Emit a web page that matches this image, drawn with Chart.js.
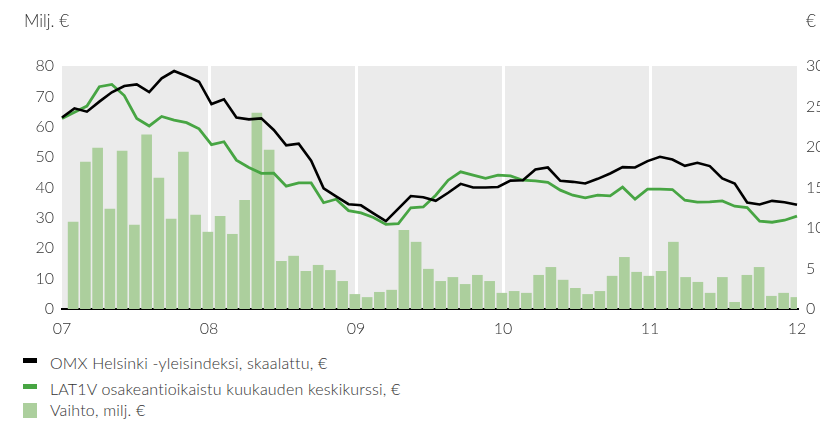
<!DOCTYPE html>
<html lang="fi">
<head>
<meta charset="utf-8">
<title>LAT1V kurssi ja vaihto</title>
<script src="https://cdn.jsdelivr.net/npm/chart.js@4.4.1/dist/chart.umd.min.js"></script>
<style>
    html, body { margin: 0; padding: 0; background: #fff; overflow: hidden; }
    #kehys { position: relative; width: 820px; height: 422px; overflow: hidden; }
    #kaavio { position: absolute; left: 0; top: 0; }
    .selite { position: absolute; left: 0; height: 24px; line-height: 24px; font: 300 16px Lato, sans-serif; letter-spacing: 0.2px; color: #333; white-space: nowrap; }
    .selite .merkki { position: absolute; left: 23px; width: 14px; }
    .selite .teksti { position: absolute; left: 50px; top: 0; }
</style>
</head>
<body>
<div id="kehys">
    <canvas id="kaavio" width="840" height="345"></canvas>
    <div id="selitteet"></div>
</div>
<script>
// --- DATA ---
const vuodet = ['07', '08', '09', '10', '11', '12'];

const kuukaudet = [];
for (let v = 2007; v <= 2011; v++) {
    for (let k = 1; k <= 12; k++) kuukaudet.push(v + '-' + String(k).padStart(2, '0'));
}

// OMX Helsinki -yleisindeksi, skaalattu, € (oikea akseli)
const omxHelsinki = [
    23.65, 24.77, 24.36, 25.6, 26.75, 27.53, 27.73, 26.79, 28.48, 29.38, 28.76, 28.06,
    25.3, 25.88, 23.65, 23.41, 23.53, 22.1, 20.2, 20.4, 18.3, 14.9, 13.9, 12.94,
    12.8, 11.8, 10.84, 12.4, 13.95, 13.8, 13.35, 14.35, 15.45, 15.0, 15.0, 15.07,
    15.85, 15.9, 17.23, 17.47, 15.82, 15.7, 15.5, 16.07, 16.73, 17.51, 17.47, 18.26,
    18.79, 18.46, 17.68, 18.05, 17.64, 16.11, 15.5, 13.15, 12.9, 13.35, 13.19, 12.86
];

// LAT1V osakeantioikaistu kuukauden keskikurssi, € (oikea akseli)
const lat1vKurssi = [
    23.53, 24.3, 25.05, 27.45, 27.73, 26.35, 23.53, 22.6, 23.77, 23.32, 23.0, 22.25,
    20.3, 20.65, 18.38, 17.47, 16.75, 16.76, 15.16, 15.57, 15.57, 13.12, 13.55, 12.15,
    11.86, 11.3, 10.45, 10.55, 12.5, 12.6, 14.05, 15.9, 16.93, 16.52, 16.13, 16.52,
    16.43, 15.9, 15.81, 15.65, 14.67, 14.05, 13.72, 14.05, 13.97, 15.04, 13.56, 14.79,
    14.79, 14.75, 13.43, 13.19, 13.23, 13.35, 12.69, 12.53, 10.84, 10.71, 10.96, 11.46
];

// Vaihto, milj. € (vasen akseli)
const vaihto = [
    28.6, 48.4, 53.0, 32.9, 52.0, 27.6, 57.3, 43.1, 29.6, 51.7, 30.9, 25.3,
    30.5, 24.6, 35.8, 64.5, 52.3, 15.7, 17.4, 12.4, 14.4, 12.7, 9.1, 4.8,
    3.8, 5.5, 6.2, 25.9, 22.0, 13.1, 9.1, 10.4, 8.1, 11.1, 9.1, 5.2,
    5.8, 5.2, 11.1, 13.7, 9.5, 6.8, 4.8, 5.8, 10.8, 17.0, 12.1, 10.8,
    12.4, 22.0, 10.4, 8.8, 5.2, 10.4, 2.2, 11.1, 13.7, 4.2, 5.2, 3.8
];

const sarjaNimet = [
    'OMX Helsinki -yleisindeksi, skaalattu, €',
    'LAT1V osakeantioikaistu kuukauden keskikurssi, €',
    'Vaihto, milj. €'
];

// --- ULKOASU ---
const VARI_MUSTA = '#000000';
const VARI_VIHREA = '#47a543';
const VARI_PYLVAS = '#accf9d';
const VARI_TAUSTA = '#ebebeb';
const VARI_TEKSTI = '#333333';
const fontti = { family: 'Lato, sans-serif', size: 16, weight: 300 };

// harmaa tausta piirtoalueelle
const taustaPlugin = {
    id: 'tausta',
    beforeDraw(chart) {
        const { ctx, chartArea: a } = chart;
        ctx.save();
        ctx.fillStyle = VARI_TAUSTA;
        ctx.fillRect(a.left, a.top, a.right - a.left, a.bottom - a.top);
        ctx.restore();
    }
};

// yksiköt akseleiden yläpuolelle
const yksikotPlugin = {
    id: 'yksikot',
    afterDraw(chart) {
        const { ctx, chartArea: a } = chart;
        ctx.save();
        ctx.font = '300 17px Lato, sans-serif';
        ctx.fillStyle = VARI_TEKSTI;
        ctx.textBaseline = 'alphabetic';
        ctx.textAlign = 'left';
        ctx.fillText('Milj. €', a.left - 38, 27);
        ctx.fillText('€', a.right + 9, 27);
        ctx.restore();
    }
};

const ctx = document.getElementById('kaavio').getContext('2d');

new Chart(ctx, {
    data: {
        labels: kuukaudet,
        datasets: [
            {
                type: 'line', label: sarjaNimet[0], data: omxHelsinki,
                xAxisID: 'xViiva', yAxisID: 'y2',
                borderColor: VARI_MUSTA, borderWidth: 2.6, pointRadius: 0, tension: 0
            },
            {
                type: 'line', label: sarjaNimet[1], data: lat1vKurssi,
                xAxisID: 'xViiva', yAxisID: 'y2',
                borderColor: VARI_VIHREA, borderWidth: 2.8, pointRadius: 0, tension: 0
            },
            {
                type: 'bar', label: sarjaNimet[2], data: vaihto,
                xAxisID: 'x', yAxisID: 'y',
                backgroundColor: VARI_PYLVAS, barThickness: 10
            }
        ]
    },
    options: {
        responsive: false, animation: false, devicePixelRatio: 1,
        layout: { padding: { top: 66, left: 0, right: 0, bottom: 0 } },
        plugins: { legend: { display: false }, tooltip: { enabled: false } },
        scales: {
            x: { type: 'category', offset: true, display: false },
            xViiva: { type: 'category', offset: false, display: false },
            xVuosi: {
                type: 'linear', position: 'bottom', min: 0, max: 60,
                grid: {
                    drawTicks: false, lineWidth: 3,
                    color: c => (c.tick && (c.tick.value === 0 || c.tick.value === 60)) ? 'rgba(0,0,0,0)' : '#ffffff'
                },
                border: { display: true, color: '#000000', width: 2 },
                ticks: {
                    stepSize: 12, padding: 10, font: fontti, color: VARI_TEKSTI,
                    callback: v => vuodet[v / 12]
                },
                afterFit: s => { s.height = 36; }
            },
            y: {
                position: 'left', min: 0, max: 80,
                grid: { display: false, drawTicks: false },
                border: { display: false },
                ticks: { stepSize: 10, padding: 8, font: fontti, color: VARI_TEKSTI },
                afterFit: s => { s.width = 62; }
            },
            y2: {
                position: 'right', min: 0, max: 30,
                grid: { display: false, drawTicks: false },
                border: { display: false },
                ticks: { stepSize: 5, padding: 9, font: fontti, color: VARI_TEKSTI },
                afterFit: s => { s.width = 43; }
            }
        }
    },
    plugins: [taustaPlugin, yksikotPlugin]
});

// --- SELITTEET (HTML) ---
const selitteet = document.getElementById('selitteet');
const riviYlareunat = [353, 379, 400];
const merkit = [
    { vari: VARI_MUSTA, top: 5, korkeus: 5 },
    { vari: VARI_VIHREA, top: 5, korkeus: 5 },
    { vari: VARI_PYLVAS, top: 3, korkeus: 15 }
];
sarjaNimet.forEach((nimi, i) => {
    const rivi = document.createElement('div');
    rivi.className = 'selite';
    rivi.style.top = riviYlareunat[i] + 'px';
    rivi.innerHTML = `<span class="merkki" style="top:${merkit[i].top}px;height:${merkit[i].korkeus}px;background:${merkit[i].vari}"></span><span class="teksti">${nimi}</span>`;
    selitteet.appendChild(rivi);
});
</script>
</body>
</html>
